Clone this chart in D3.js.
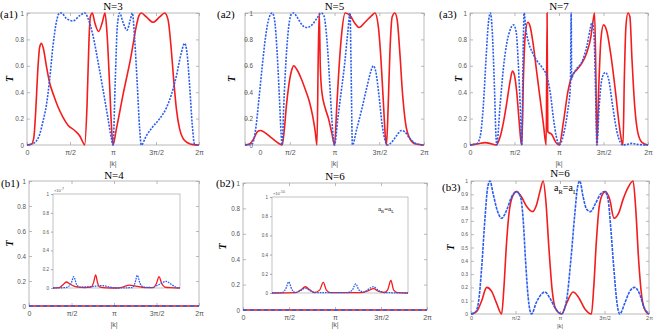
<!DOCTYPE html>
<html>
<head>
<meta charset="utf-8">
<script src="https://cdn.jsdelivr.net/npm/d3@7"></script>
<style>
  body { margin: 0; background: #fff; }
  .tick text { fill: #555; font-family: "Liberation Sans", Arial, sans-serif; }
  .serif { font-family: "Liberation Serif", "Times New Roman", serif; }
</style>
</head>
<body>
<div id="chart"></div>
<script>
// x values are k in units of pi (0..2), y values are T
const kTicks = [0, 0.5, 1, 1.5, 2];
const kLabels = ["0", "π/2", "π", "3π/2", "2π"];
const tTicks = [0, 0.2, 0.4, 0.6, 0.8, 1];
const tTicksFine = [0, 0.1, 0.2, 0.3, 0.4, 0.5, 0.6, 0.7, 0.8, 0.9, 1];

// (a1) N=3
const a1Red = [[0,0],[0.05,0.005],[0.078,0.05],[0.101,0.25],[0.124,0.55],[0.147,0.74],[0.167,0.77],[0.194,0.72],[0.225,0.6],[0.264,0.47],[0.314,0.37],[0.36,0.29],[0.419,0.21],[0.477,0.15],[0.554,0.11],[0.612,0.07],[0.651,0.02],[0.671,0],[0.698,0.3],[0.721,0.8],[0.736,0.97],[0.76,1],[0.787,0.93],[0.833,0.86],[0.876,0.93],[0.907,1],[0.93,0.85],[0.961,0.45],[0.984,0.12],[1,0],[1.039,0.12],[1.078,0.25],[1.116,0.38],[1.155,0.5],[1.194,0.62],[1.233,0.76],[1.271,0.9],[1.302,0.98],[1.329,1],[1.388,0.97],[1.465,0.93],[1.543,0.97],[1.601,1],[1.64,0.95],[1.678,0.72],[1.705,0.5],[1.736,0.28],[1.775,0.12],[1.814,0.05],[1.872,0.015],[1.93,0.003],[2,0]];
const a1Blue = [[0,0],[0.07,0.01],[0.109,0.03],[0.147,0.08],[0.186,0.18],[0.225,0.3],[0.264,0.5],[0.302,0.75],[0.341,0.93],[0.38,1],[0.399,1],[0.457,0.96],[0.535,0.94],[0.612,0.98],[0.671,1],[0.709,0.96],[0.767,0.83],[0.826,0.63],[0.884,0.42],[0.942,0.2],[0.981,0.05],[1,0],[1.027,0.5],[1.05,0.9],[1.078,1],[1.116,0.93],[1.163,0.87],[1.202,0.95],[1.225,1],[1.252,0.8],[1.283,0.45],[1.31,0.12],[1.329,0],[1.388,0.07],[1.465,0.14],[1.543,0.2],[1.62,0.28],[1.678,0.38],[1.736,0.52],[1.795,0.7],[1.833,0.77],[1.86,0.7],[1.891,0.45],[1.922,0.15],[1.95,0],[2,0]];

// (a2) N=5
const a2Red = [[0,0],[0.044,0.005],[0.1,0.05],[0.137,0.1],[0.174,0.11],[0.23,0.09],[0.285,0.06],[0.341,0.03],[0.396,0.005],[0.415,0],[0.437,0.1],[0.463,0.3],[0.489,0.45],[0.519,0.56],[0.544,0.6],[0.581,0.57],[0.63,0.5],[0.674,0.42],[0.719,0.33],[0.756,0.22],[0.785,0.1],[0.804,0],[0.819,0.7],[0.83,1],[0.841,0.6],[0.859,0.4],[0.896,0.28],[0.933,0.2],[0.97,0.09],[1,0],[1.026,0.3],[1.052,0.6],[1.081,0.85],[1.119,1],[1.174,0.98],[1.23,0.92],[1.274,0.89],[1.341,0.93],[1.415,0.98],[1.452,1],[1.489,0.9],[1.519,0.65],[1.544,0.35],[1.57,0.05],[1.581,0],[1.6,0.3],[1.619,0.7],[1.644,0.97],[1.674,1],[1.7,0.95],[1.73,0.7],[1.759,0.4],[1.793,0.17],[1.841,0.05],[1.896,0.01],[2,0]];
const a2Blue = [[0,0],[0.081,0.01],[0.119,0.12],[0.156,0.35],[0.193,0.6],[0.23,0.82],[0.267,0.96],[0.304,1],[0.33,0.95],[0.359,0.7],[0.385,0.35],[0.404,0.08],[0.415,0],[0.433,0.3],[0.459,0.65],[0.489,0.9],[0.519,0.99],[0.541,1],[0.581,0.97],[0.637,0.91],[0.693,0.89],[0.748,0.91],[0.804,0.96],[0.852,1],[0.881,0.98],[0.915,0.8],[0.944,0.5],[0.97,0.2],[1,0],[1.037,0.2],[1.074,0.4],[1.111,0.6],[1.148,0.85],[1.174,1],[1.185,0.6],[1.2,0],[1.248,0.12],[1.304,0.27],[1.359,0.43],[1.407,0.56],[1.433,0.6],[1.463,0.55],[1.496,0.38],[1.533,0.15],[1.563,0.04],[1.593,0],[1.637,0.02],[1.693,0.07],[1.748,0.11],[1.785,0.1],[1.841,0.05],[1.896,0.015],[2,0]];

// (a3) N=7
const a3Red = [[0,0],[0.094,0.01],[0.169,0.018],[0.236,0.01],[0.293,0],[0.338,0.06],[0.375,0.17],[0.413,0.32],[0.45,0.48],[0.477,0.56],[0.499,0.53],[0.525,0.4],[0.552,0.18],[0.574,0.02],[0.582,0],[0.6,0.5],[0.619,0.82],[0.649,0.93],[0.675,0.9],[0.713,0.75],[0.75,0.55],[0.788,0.35],[0.826,0.15],[0.856,0],[0.866,1],[0.874,0.1],[0.919,0.08],[0.964,0.02],[1.002,0],[1.051,0.18],[1.099,0.4],[1.144,0.52],[1.201,0.57],[1.257,0.62],[1.313,0.7],[1.358,0.82],[1.385,0.95],[1.4,1],[1.415,0.5],[1.426,0],[1.445,0.4],[1.471,0.8],[1.501,0.91],[1.538,0.86],[1.583,0.68],[1.632,0.42],[1.677,0.15],[1.707,0.02],[1.719,0],[1.734,0.5],[1.752,0.9],[1.775,1],[1.797,0.97],[1.82,0.65],[1.85,0.3],[1.884,0.1],[1.932,0.02],[2,0]];
const a3Blue = [[0,0],[0.075,0.01],[0.113,0.06],[0.15,0.3],[0.18,0.65],[0.206,0.92],[0.229,1],[0.251,0.85],[0.274,0.45],[0.293,0.05],[0.3,0],[0.338,0.3],[0.375,0.58],[0.413,0.77],[0.45,0.87],[0.488,0.91],[0.518,0.86],[0.544,0.6],[0.567,0.25],[0.582,0],[0.597,0.7],[0.608,1],[0.627,0.88],[0.657,0.78],[0.702,0.7],[0.75,0.64],[0.807,0.59],[0.863,0.52],[0.901,0.4],[0.938,0.2],[0.968,0.07],[1.002,0],[1.051,0.08],[1.096,0.25],[1.128,0.45],[1.137,1],[1.142,0.5],[1.152,0.52],[1.201,0.58],[1.257,0.63],[1.313,0.75],[1.351,0.88],[1.37,0.93],[1.392,0.85],[1.411,0.4],[1.426,0],[1.452,0.3],[1.482,0.5],[1.52,0.55],[1.557,0.5],[1.602,0.3],[1.651,0.1],[1.689,0.02],[1.715,0],[1.764,0.005],[1.82,0.012],[1.876,0.005],[2,0]];

// (b1) N=4 and (b2) N=6: main curves stay at zero
const zeroLine = [[0,0],[2,0]];
const b1InsetRed = [[0,0],[0.1,0.005],[0.15,0.03],[0.21,0.064],[0.27,0.04],[0.33,0.02],[0.4,0.01],[0.5,0.005],[0.6,0.01],[0.64,0.06],[0.672,0.14],[0.7,0.06],[0.74,0.01],[0.85,0.002],[1,0],[1.1,0.01],[1.2,0.03],[1.3,0.02],[1.45,0.005],[1.58,0.005],[1.63,0.05],[1.67,0.12],[1.71,0.05],[1.76,0.01],[1.85,0.003],[2,0]];
const b1InsetBlue = [[0,0],[0.2,0.005],[0.28,0.04],[0.326,0.12],[0.37,0.04],[0.42,0.01],[0.6,0.015],[0.78,0.025],[0.9,0.01],[1,0],[1.25,0.005],[1.29,0.05],[1.328,0.135],[1.37,0.05],[1.42,0.01],[1.55,0.005],[1.68,0.04],[1.78,0.07],[1.86,0.04],[1.93,0.01],[2,0]];
const b2InsetRed = [[0,0],[0.35,0.003],[0.42,0.03],[0.49,0.065],[0.56,0.03],[0.62,0.005],[0.7,0.03],[0.754,0.11],[0.8,0.03],[0.86,0.003],[1.3,0.003],[1.42,0.025],[1.49,0.045],[1.56,0.02],[1.65,0.005],[1.7,0.03],[1.748,0.13],[1.79,0.03],[1.85,0.003],[2,0]];
const b2InsetBlue = [[0,0],[0.15,0.005],[0.2,0.04],[0.246,0.115],[0.29,0.04],[0.34,0.005],[0.42,0.025],[0.49,0.05],[0.56,0.025],[0.64,0.003],[1.1,0.003],[1.18,0.03],[1.232,0.095],[1.28,0.03],[1.35,0.01],[1.42,0.04],[1.49,0.065],[1.56,0.03],[1.65,0.005],[2,0]];

// (b3) N=6, aR=aL
const b3Red = [[0,0],[0.064,0.02],[0.12,0.1],[0.176,0.2],[0.232,0.17],[0.288,0.08],[0.344,0],[0.37,0.2],[0.396,0.5],[0.426,0.75],[0.464,0.88],[0.512,0.92],[0.568,0.88],[0.624,0.81],[0.692,0.77],[0.736,0.82],[0.774,0.92],[0.811,1],[0.841,0.85],[0.875,0.5],[0.912,0.18],[0.95,0.04],[1.017,0],[1.073,0.08],[1.148,0.165],[1.204,0.13],[1.278,0.04],[1.353,0],[1.379,0.2],[1.409,0.55],[1.439,0.8],[1.477,0.9],[1.51,0.92],[1.559,0.86],[1.607,0.72],[1.66,0.76],[1.708,0.86],[1.764,0.95],[1.821,1],[1.85,0.8],[1.884,0.4],[1.921,0.12],[1.963,0.02],[2,0]];
const b3Blue = [[0,0],[0.045,0.01],[0.082,0.08],[0.12,0.35],[0.157,0.72],[0.187,0.95],[0.213,1],[0.25,0.9],[0.299,0.77],[0.344,0.72],[0.4,0.78],[0.456,0.88],[0.512,0.92],[0.557,0.88],[0.587,0.7],[0.613,0.4],[0.643,0.12],[0.68,0],[0.736,0.09],[0.83,0.165],[0.886,0.12],[0.95,0.04],[1.017,0],[1.073,0.1],[1.121,0.4],[1.166,0.75],[1.196,0.95],[1.222,1],[1.26,0.88],[1.297,0.79],[1.342,0.77],[1.398,0.83],[1.454,0.9],[1.503,0.92],[1.54,0.86],[1.57,0.65],[1.604,0.35],[1.641,0.08],[1.671,0],[1.727,0.08],[1.783,0.17],[1.839,0.2],[1.895,0.15],[1.944,0.05],[2,0]];

const RED = "#f41c1c";
const BLUE = "#2a5cf0";
const FRAME = "#a8a8a8";

const svg = d3.select("#chart").append("svg")
  .attr("width", 654)
  .attr("height", 331);

// drop trailing zeros: 1 not 1.0, 0 not 0.0
const tFmt = d => String(+d.toFixed(1));

function frameAxes(g, x, y, yTicks, fontSize, pad) {
  const [x0, x1] = x.range();
  const [y1, y0] = y.range();
  // box
  g.append("rect")
    .attr("x", x0).attr("y", y0)
    .attr("width", x1 - x0).attr("height", y1 - y0)
    .attr("fill", "none").attr("stroke", FRAME).attr("stroke-width", 0.8);

  const ax = g.append("g")
    .attr("transform", `translate(0,${y1})`)
    .call(d3.axisBottom(x).tickValues(kTicks).tickFormat((d, i) => kLabels[i]).tickSize(-3).tickPadding(pad));
  ax.selectAll("text").attr("font-size", fontSize);

  const ay = g.append("g")
    .attr("transform", `translate(${x0},0)`)
    .call(d3.axisLeft(y).tickValues(yTicks).tickFormat(tFmt).tickSize(-3).tickPadding(3));
  ay.selectAll("text").attr("font-size", fontSize * 0.9);

  g.append("g").attr("transform", `translate(0,${y0})`)
    .call(d3.axisTop(x).tickValues(kTicks).tickFormat("").tickSize(-3));
  g.append("g").attr("transform", `translate(${x1},0)`)
    .call(d3.axisRight(y).tickValues(yTicks).tickFormat("").tickSize(-3));

  g.selectAll(".domain").remove();
  g.selectAll(".tick line").attr("stroke", FRAME).attr("stroke-width", 0.8);
  return { ax, ay };
}

function drawCurve(g, x, y, data, color, dash, width) {
  const line = d3.line()
    .x(d => x(d[0]))
    .y(d => y(d[1]))
    .curve(d3.curveMonotoneX);
  g.append("path")
    .datum(data)
    .attr("fill", "none")
    .attr("stroke", color)
    .attr("stroke-width", width)
    .attr("stroke-dasharray", dash)
    .attr("d", line);
}

function panel(p) {
  const g = svg.append("g");
  const x = d3.scaleLinear().domain([0, 2]).range([p.x0, p.x1]);
  const y = d3.scaleLinear().domain([0, 1]).range([p.y1, p.y0]);
  const axes = frameAxes(g, x, y, p.fine ? tTicksFine : tTicks, p.fine ? 5.5 : 7, p.fine ? 2.5 : 5);

  drawCurve(g, x, y, p.red, RED, null, 1.6);
  drawCurve(g, x, y, p.blue, BLUE, p.blueDash || "2,1.3", 1.6);

  // title
  g.append("text").attr("class", "serif")
    .attr("x", (p.x0 + p.x1) / 2).attr("y", p.titleY)
    .attr("text-anchor", "middle").attr("font-size", 11)
    .text(p.title);
  // panel tag
  g.append("text").attr("class", "serif")
    .attr("x", p.tagX).attr("y", p.tagY)
    .attr("font-size", 11)
    .text(p.tag);
  // x label
  g.append("text")
    .attr("x", (p.x0 + p.x1) / 2).attr("y", p.xlabY)
    .attr("text-anchor", "middle").attr("font-size", p.fine ? 6 : 7).attr("fill", "#555")
    .attr("font-family", "Liberation Sans, Arial, sans-serif")
    .text("|k|");
  // y label
  g.append("text").attr("class", "serif")
    .attr("transform", `translate(${p.ylabX},${(p.y0 + p.y1) / 2}) rotate(-90)`)
    .attr("text-anchor", "middle").attr("font-size", 10)
    .attr("font-style", "italic").attr("font-weight", "bold")
    .text("T");
  return { g, x, y, axes };
}

function inset(g, p) {
  const x = d3.scaleLinear().domain([0, 2]).range([p.x0, p.x1]);
  const y = d3.scaleLinear().domain([0, 1]).range([p.y1, p.y0]);
  g.append("rect")
    .attr("x", p.x0).attr("y", p.y0)
    .attr("width", p.x1 - p.x0).attr("height", p.y1 - p.y0)
    .attr("fill", "#fff").attr("stroke", FRAME).attr("stroke-width", 0.7);
  const ay = g.append("g")
    .attr("transform", `translate(${p.x0},0)`)
    .call(d3.axisLeft(y).tickValues(tTicks).tickFormat(tFmt).tickSize(2).tickPadding(2));
  ay.select(".domain").remove();
  ay.selectAll(".tick line").attr("stroke", FRAME);
  ay.selectAll("text").attr("font-size", 4.5);
  g.append("text")
    .attr("x", p.x0 + 1).attr("y", p.y0 - 2)
    .attr("font-size", 4).attr("fill", "#555")
    .attr("font-family", "Liberation Sans, Arial, sans-serif")
    .text("×10").append("tspan").attr("dy", -2).attr("font-size", 3.5).text(p.exp);
  drawCurve(g, x, y, p.red, RED, null, 1.3);
  drawCurve(g, x, y, p.blue, BLUE, "1.6,1", 1.3);
}

function aRaL(g, xPos, yPos, size) {
  const t = g.append("text").attr("class", "serif")
    .attr("x", xPos).attr("y", yPos).attr("font-size", size);
  t.append("tspan").text("a");
  t.append("tspan").attr("dy", size * 0.25).attr("font-size", size * 0.65).text("R");
  t.append("tspan").attr("dy", -size * 0.25).text("=a");
  t.append("tspan").attr("dy", size * 0.25).attr("font-size", size * 0.65).text("L");
}

// top row
panel({ x0: 27, x1: 199, y0: 13, y1: 145, red: a1Red, blue: a1Blue, title: "N=3", titleY: 10, tag: "(a1)", tagX: 0, tagY: 18, xlabY: 166, ylabX: 13 });
const pa2 = panel({ x0: 245, x1: 424, y0: 13, y1: 145, red: a2Red, blue: a2Blue, title: "N=5", titleY: 10, tag: "(a2)", tagX: 217, tagY: 18, xlabY: 166, ylabX: 235 });
// in the source figure the a2 tick labels sit shifted inward
pa2.axes.ay.selectAll("text").attr("dx", 11);
pa2.axes.ax.selectAll(".tick").filter(d => d === 0).select("text").attr("dx", 15);
panel({ x0: 470, x1: 648, y0: 13, y1: 145, red: a3Red, blue: a3Blue, title: "N=7", titleY: 10, tag: "(a3)", tagX: 439, tagY: 18, xlabY: 166, ylabX: 462 });

// bottom row
const pb1 = panel({ x0: 29, x1: 199, y0: 181, y1: 306, red: zeroLine, blue: zeroLine, blueDash: "4,3", title: "N=4", titleY: 179, tag: "(b1)", tagX: 1, tagY: 187, xlabY: 327, ylabX: 13 });
inset(pb1.g, { x0: 53, x1: 180, y0: 194, y1: 288, red: b1InsetRed, blue: b1InsetBlue, exp: "-7" });

const pb2 = panel({ x0: 243, x1: 427, y0: 183, y1: 310, red: zeroLine, blue: zeroLine, blueDash: "4,3", title: "N=6", titleY: 180, tag: "(b2)", tagX: 216, tagY: 187, xlabY: 327, ylabX: 226 });
inset(pb2.g, { x0: 272, x1: 408, y0: 197, y1: 293, red: b2InsetRed, blue: b2InsetBlue, exp: "-10" });
aRaL(pb2.g, 378, 211, 7);

const pb3 = panel({ x0: 471, x1: 649, y0: 181, y1: 314, red: b3Red, blue: b3Blue, blueDash: "3,1", fine: true, title: "N=6", titleY: 177, tag: "(b3)", tagX: 442, tagY: 191, xlabY: 328, ylabX: 454 });
aRaL(pb3.g, 554, 191, 10);
</script>
</body>
</html>
